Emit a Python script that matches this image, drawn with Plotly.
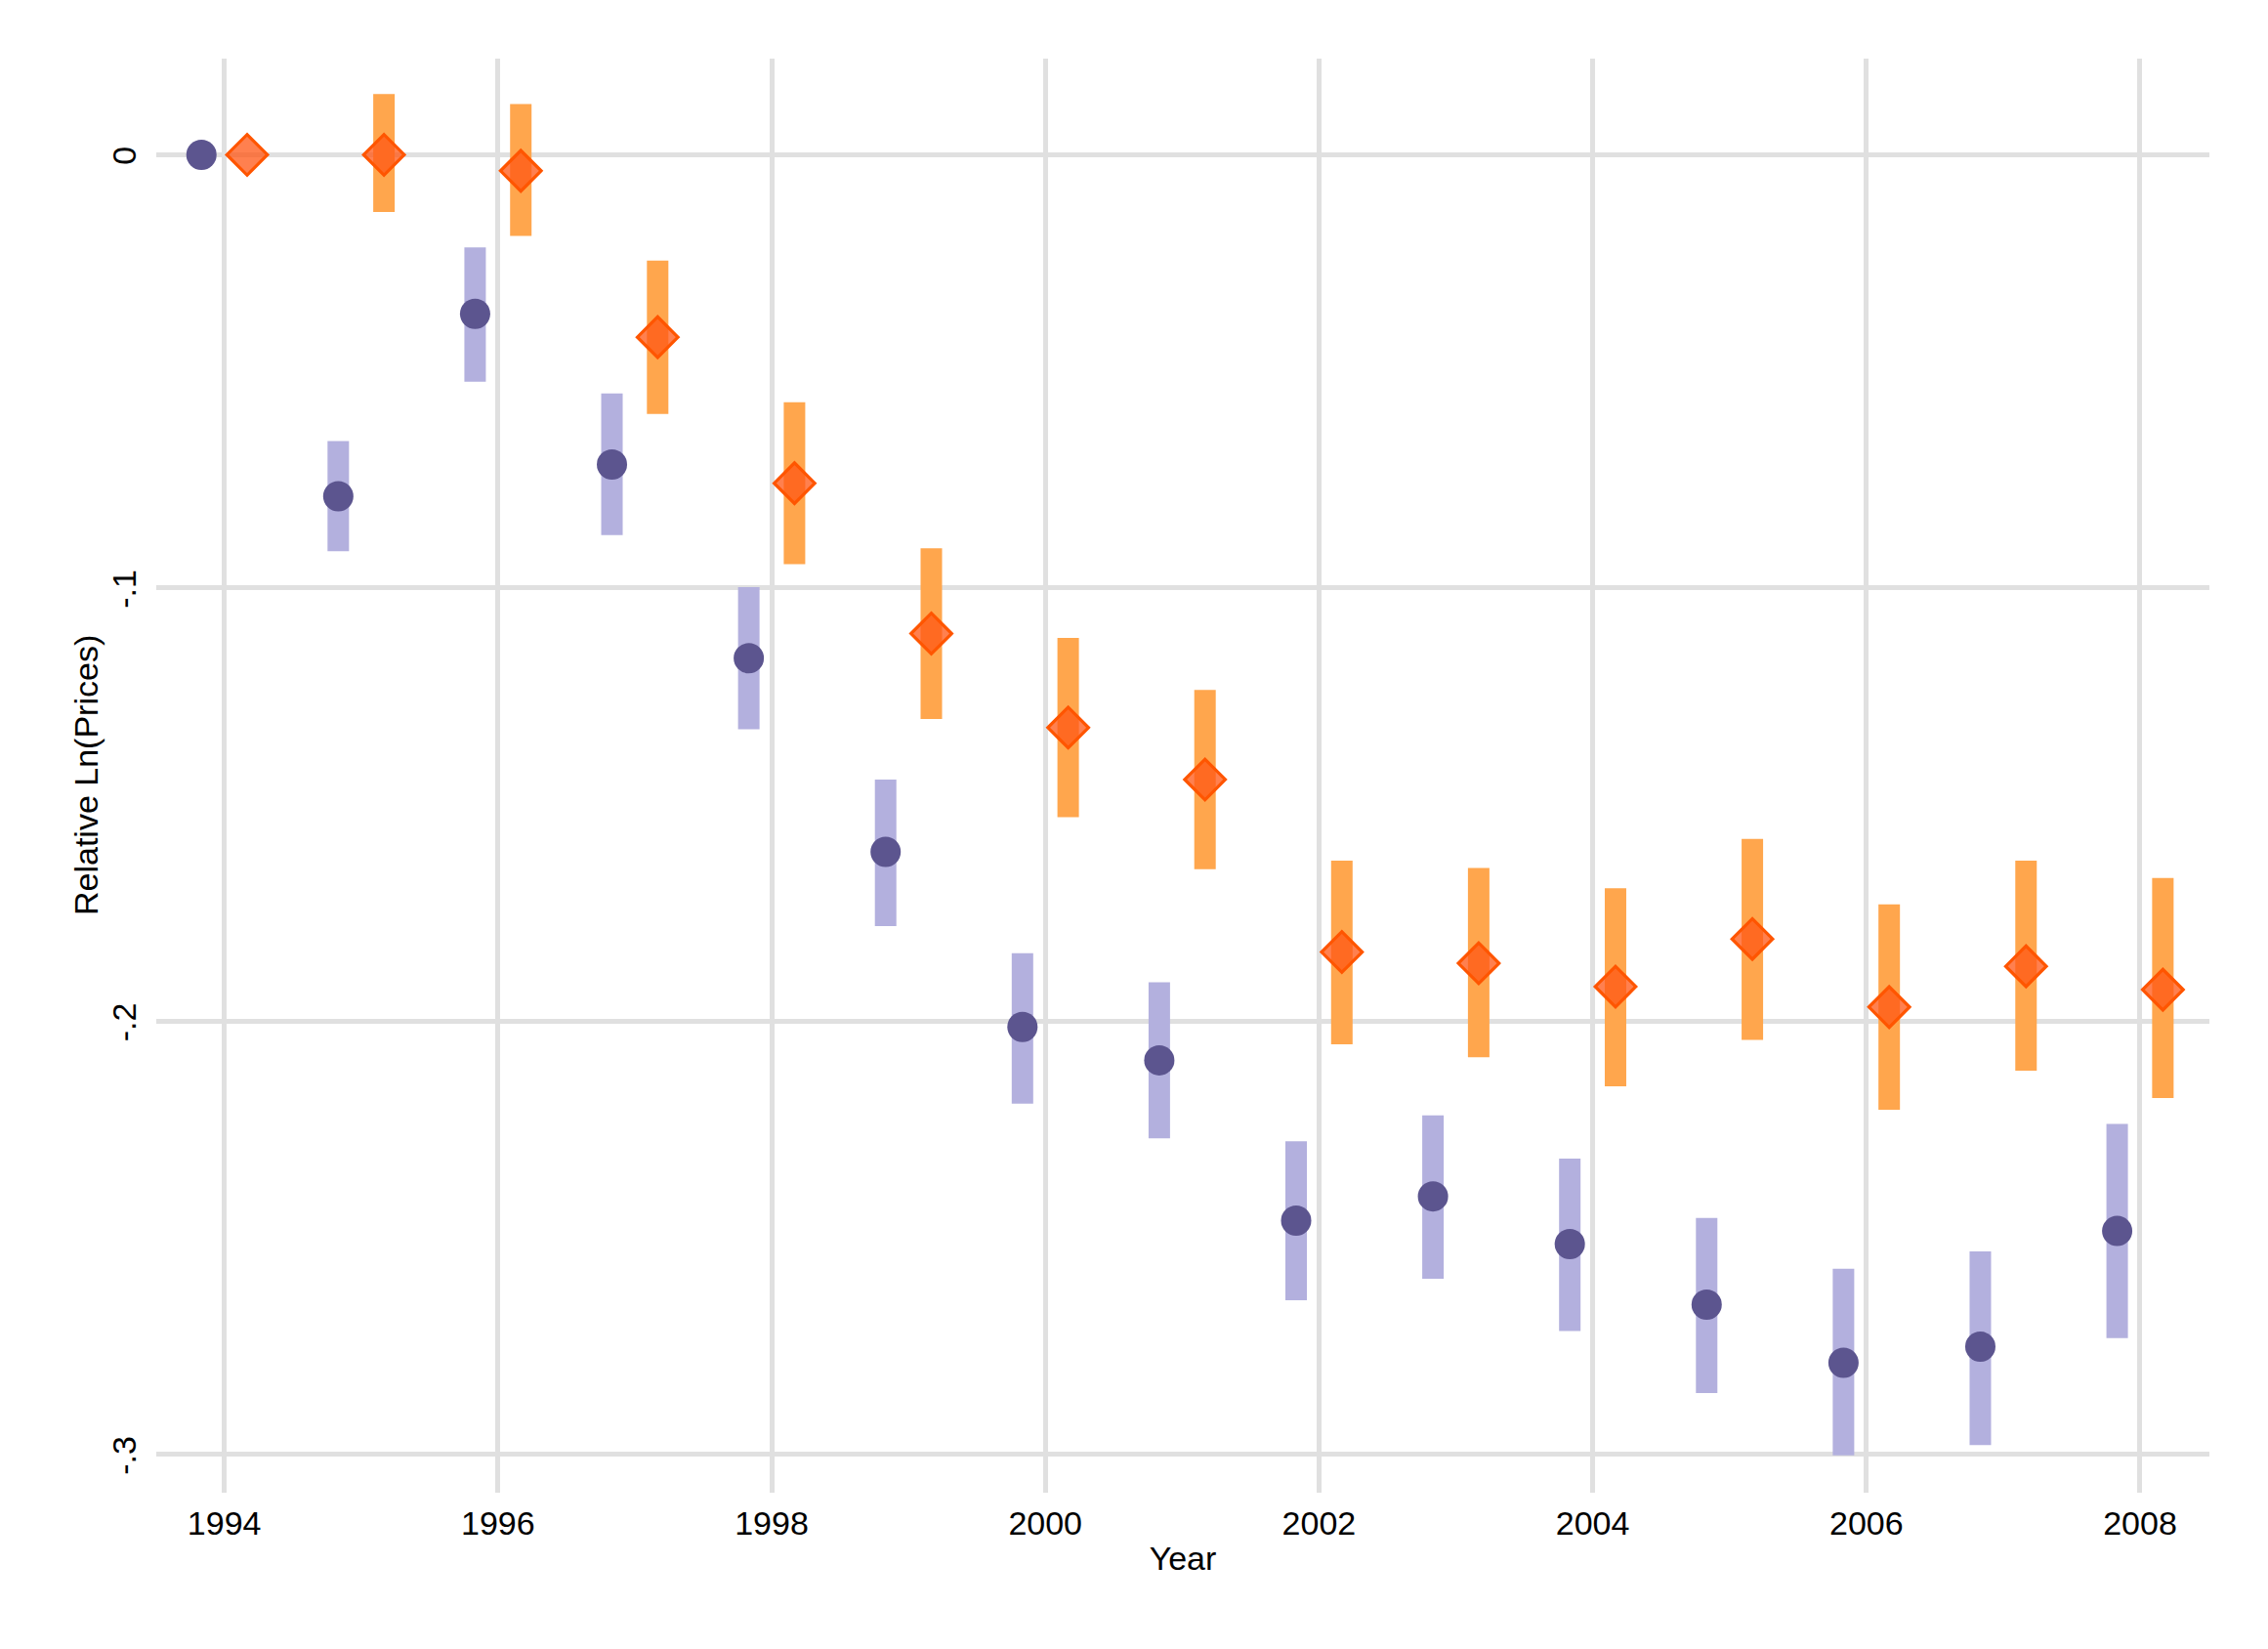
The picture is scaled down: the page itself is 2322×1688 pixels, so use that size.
import plotly.graph_objects as go

years = [1994, 1995, 1996, 1997, 1998, 1999, 2000, 2001, 2002, 2003, 2004, 2005, 2006, 2007, 2008]

# Purple series (circles)
purple_val = [0.0, -0.0788, -0.0367, -0.0715, -0.1162, -0.1609, -0.2013, -0.2090, -0.2460, -0.2404, -0.2514, -0.2654, -0.2788, -0.2751, -0.2484]
purple_lo = [0.0, -0.0915, -0.0524, -0.0878, -0.1326, -0.1780, -0.2190, -0.2270, -0.2644, -0.2594, -0.2715, -0.2858, -0.3002, -0.2978, -0.2731]
purple_hi = [0.0, -0.0661, -0.0214, -0.0551, -0.0998, -0.1442, -0.1843, -0.1910, -0.2277, -0.2217, -0.2317, -0.2454, -0.2571, -0.2531, -0.2237]

# Orange series (diamonds)
orange_val = [0.0, 0.0, -0.0037, -0.0421, -0.0758, -0.1105, -0.1322, -0.1442, -0.1840, -0.1866, -0.1920, -0.1810, -0.1967, -0.1873, -0.1927]
orange_lo = [0.0, -0.0132, -0.0187, -0.0598, -0.0945, -0.1302, -0.1529, -0.1649, -0.2053, -0.2083, -0.2150, -0.2043, -0.2204, -0.2114, -0.2177]
orange_hi = [0.0, 0.0140, 0.0117, -0.0244, -0.0571, -0.0908, -0.1115, -0.1235, -0.1629, -0.1646, -0.1693, -0.1579, -0.1730, -0.1629, -0.1669]

x_ticks = [1994, 1996, 1998, 2000, 2002, 2004, 2006, 2008]
y_ticks = [0, -0.1, -0.2, -0.3]
y_ticktext = ["0", "-.1", "-.2", "-.3"]

OFF = 0.167
xp = [y - OFF for y in years]
xo = [y + OFF for y in years]

FONT = "Liberation Sans, Arial, Helvetica, sans-serif"

fig = go.Figure()

# CI bars
fig.add_trace(go.Scatter(
    x=xp, y=purple_val, mode="markers",
    marker=dict(size=1, opacity=0),
    error_y=dict(type="data", symmetric=False,
                 array=[h - v for h, v in zip(purple_hi, purple_val)],
                 arrayminus=[v - l for v, l in zip(purple_val, purple_lo)],
                 thickness=22, width=0, color="#B3B0DE"),
    showlegend=False, hoverinfo="skip"))
fig.add_trace(go.Scatter(
    x=xo, y=orange_val, mode="markers",
    marker=dict(size=1, opacity=0),
    error_y=dict(type="data", symmetric=False,
                 array=[h - v for h, v in zip(orange_hi, orange_val)],
                 arrayminus=[v - l for v, l in zip(orange_val, orange_lo)],
                 thickness=22, width=0, color="#FFA64D"),
    showlegend=False, hoverinfo="skip"))

# Points
fig.add_trace(go.Scatter(
    x=xp, y=purple_val, mode="markers",
    marker=dict(symbol="circle", size=31, color="#5C558F", line=dict(width=0)),
    showlegend=False))
fig.add_trace(go.Scatter(
    x=xo, y=orange_val, mode="markers",
    marker=dict(symbol="diamond", size=32, color="rgba(255,85,20,0.75)",
                line=dict(width=3.2, color="#FF5500")),
    showlegend=False))

fig.update_layout(
    width=2322, height=1688,
    margin=dict(l=160, r=60, t=60, b=160),
    paper_bgcolor="white", plot_bgcolor="white",
    font=dict(family=FONT, size=34, color="black"),
    xaxis=dict(
        range=[1993.503, 2008.507],
        tickvals=x_ticks, ticktext=[str(t) for t in x_ticks],
        showgrid=True, gridcolor="#E0E0E0", gridwidth=4.5,
        zeroline=False, showline=False, ticks="",
        tickfont=dict(size=34), ticklabelstandoff=8,
        title=dict(text="Year", font=dict(size=34), standoff=6),
    ),
    yaxis=dict(
        range=[-0.3088, 0.0222],
        tickvals=y_ticks, ticktext=y_ticktext, tickangle=-90,
        showgrid=True, gridcolor="#E0E0E0", gridwidth=4.5,
        zeroline=False, showline=False, ticks="",
        tickfont=dict(size=34), ticklabelstandoff=13, ticklabelshift=6,
    ),
    annotations=[dict(
        text="Relative Ln(Prices)", textangle=-90,
        xref="paper", yref="paper", x=0, y=0.5,
        xanchor="center", yanchor="middle", xshift=-72,
        showarrow=False, font=dict(size=34, color="black"),
    )],
)

fig.write_html("out.html")
